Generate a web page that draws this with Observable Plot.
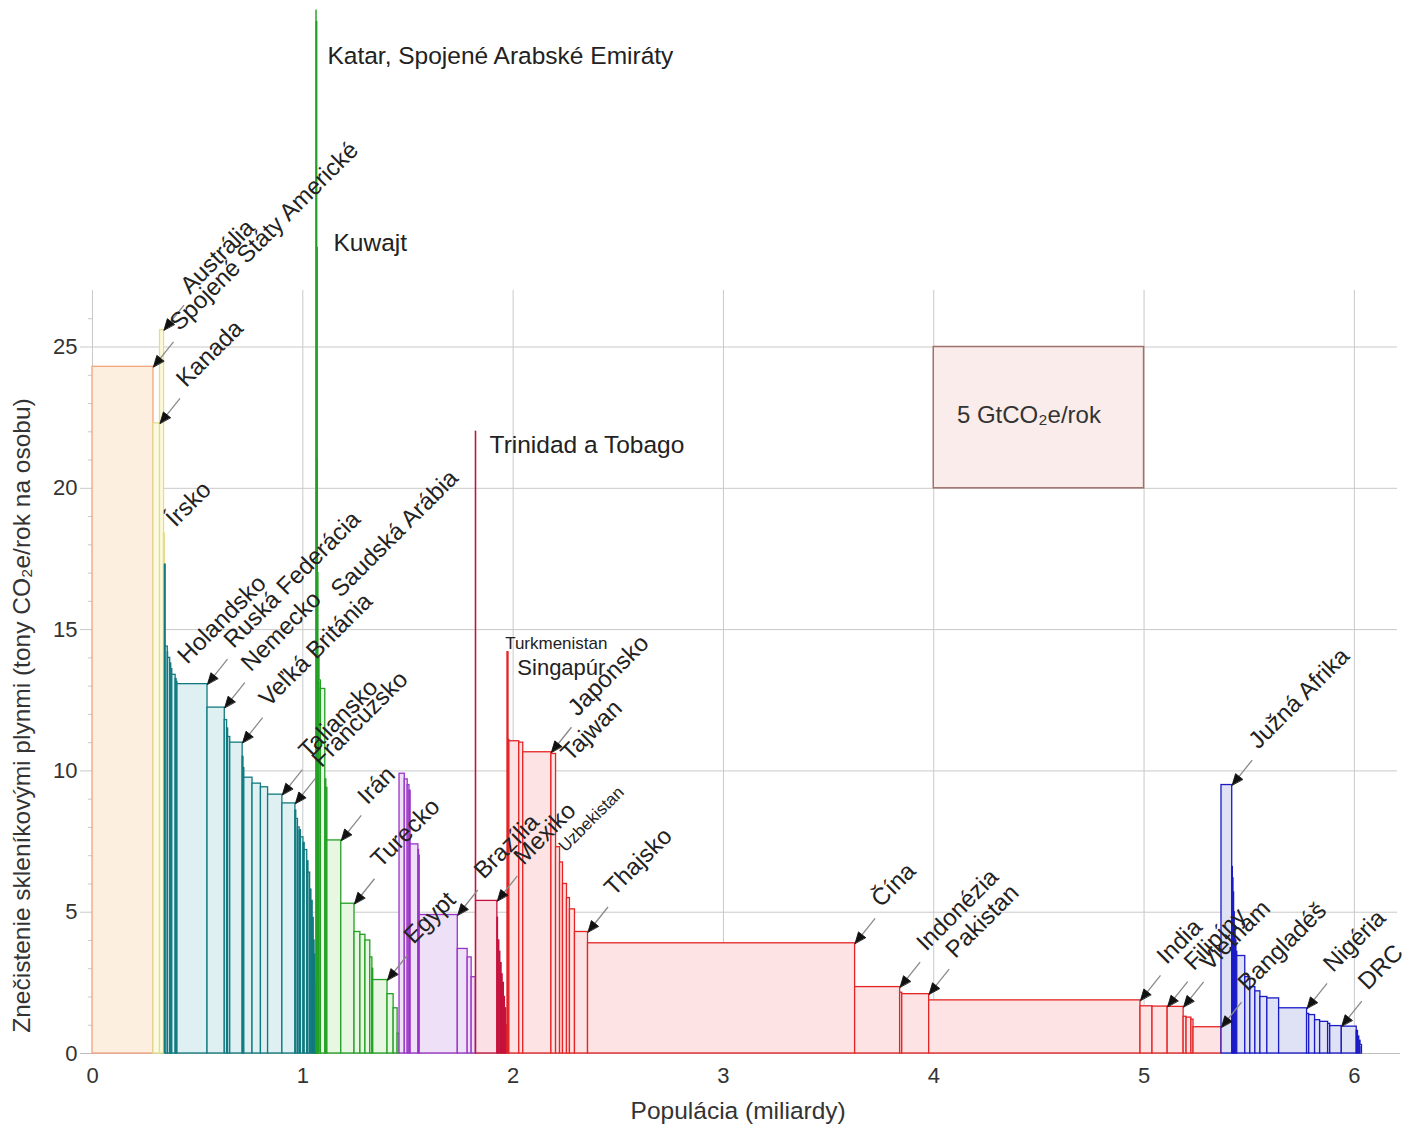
<!DOCTYPE html>
<html>
<head>
<meta charset="utf-8">
<script src="https://cdn.jsdelivr.net/npm/d3@7"></script>
<script src="https://cdn.jsdelivr.net/npm/@observablehq/plot@0.6"></script>
<style>
  html, body { margin: 0; padding: 0; background: #fff; }
  #chart svg { display: block; }
  #chart g[aria-label*="axis"] text { font-size: 22px; fill: #333; }
</style>
</head>
<body>
<div id="chart"></div>
<script>
// Greenhouse-gas emissions per person by country, grouped by region.
// Each row: [country (null when unlabelled), population in millions, t CO2e per person per year]
const usa = [["Spojené Štáty Americké", 290, 24.3]];

const ostatneRozvinute = [["Kanada", 31, 22.3], ["Austrália", 19, 25.6], [null, 4, 18.4]];

const europa = [
  ["Írsko", 4, 17.3], [null, 10, 14.4], [null, 1.4, 14.2], [null, 10, 14.0], [null, 5, 13.8], [null, 5, 13.6],
  ["Holandsko", 16, 13.4], [null, 4.5, 13.25], [null, 4, 13.15],
  ["Ruská Federácia", 143, 13.07], ["Nemecko", 82, 12.24],
  [null, 11, 11.8], [null, 5, 11.5], [null, 10, 11.2],
  ["Veľká Británia", 59, 11.0], [null, 4, 10.5], [null, 4, 10.1],
  [null, 39, 9.76], [null, 40, 9.55], [null, 34, 9.42],
  ["Taliansko", 68, 9.16], ["Francúzsko", 62, 8.85],
  [null, 4, 8.6], [null, 8, 8.3], [null, 8, 8.0], [null, 6, 7.9], [null, 12, 7.65], [null, 6, 7.45],
  [null, 12, 7.2], [null, 6, 6.8], [null, 8, 6.4], [null, 6, 5.8], [null, 6, 5.4], [null, 5, 4.8],
  [null, 4, 4.0], [null, 4, 3.5], [null, 3, 2.5], [null, 2, 1.5]
];

const blizkyVychod = [
  ["Katar", 0.6, 36.9], ["Spojené Arabské Emiráty", 3.2, 36.5], ["Kuwajt", 2.2, 28.5],
  [null, 0.7, 21.0], [null, 2.6, 17.0], [null, 5.3, 14.0], [null, 6.3, 13.2],
  ["Saudská Arábia", 21, 12.9], [null, 5, 9.7], [null, 5, 9.4],
  ["Irán", 66, 7.54], ["Turecko", 63, 5.3],
  [null, 28, 4.3], [null, 24, 4.2], [null, 23, 4.0], [null, 10, 3.4], [null, 4, 3.0],
  ["Egypt", 68, 2.6], [null, 29, 2.1], [null, 19, 1.6], [null, 9, 0.7]
];

const latinskaAmerika = [
  [null, 25, 9.9], [null, 14, 9.7], [null, 8.3, 9.5], [null, 5.5, 9.3], [null, 37, 7.4], [null, 3.3, 7.2], [null, 2.9, 7.0],
  ["Brazília", 181, 4.9], [null, 47, 3.7], [null, 19, 3.4], [null, 20, 2.7]
];

const strednaAmerika = [
  ["Trinidad a Tobago", 1.3, 22.0], ["Mexiko", 101, 5.4],
  [null, 3, 4.8], [null, 6, 4.0], [null, 5, 3.6], [null, 6, 3.2], [null, 5, 2.8],
  [null, 6, 2.5], [null, 5, 2.0], [null, 6, 1.6], [null, 6, 1.0]
];

const azia = [
  ["Turkmenistan", 5, 14.2], ["Singapúr", 4, 11.1], [null, 47, 11.05], [null, 19, 11.0],
  ["Japonsko", 134, 10.66], ["Tajwan", 22, 10.6],
  [null, 19, 7.3], [null, 14, 6.76], ["Uzbekistan", 19, 6.0], [null, 14, 5.5], [null, 24, 5.1],
  ["Thajsko", 62, 4.3], ["Čína", 1270, 3.9], ["Indonézia", 214, 2.35], [null, 10, 2.15],
  ["Pakistan", 128, 2.1], ["India", 1005, 1.88], [null, 57, 1.67],
  ["Filipíny", 72, 1.66], ["Vietnam", 76, 1.65],
  [null, 14, 1.3], [null, 23, 1.27], [null, 10, 1.2], ["Bangladéš", 133, 0.93]
];

const afrika = [
  ["Južná Afrika", 51, 9.5],
  [null, 3, 6.6], [null, 3, 6.2], [null, 3, 5.7], [null, 3, 5.0], [null, 4, 4.5], [null, 4, 4.0], [null, 4, 3.6],
  [null, 38, 3.45], [null, 24, 2.7], [null, 24, 2.35], [null, 24, 2.2], [null, 33, 2.0], [null, 56, 1.95],
  ["Nigéria", 133, 1.6],
  [null, 10, 1.4], [null, 28, 1.36], [null, 24, 1.18], [null, 38, 1.12], [null, 10, 1.05],
  ["DRC", 55, 0.97], [null, 71, 0.95], [null, 6, 0.8], [null, 6, 0.6], [null, 6, 0.45], [null, 7, 0.3]
];

const regions = [
  ["usa", usa], ["ostatne", ostatneRozvinute], ["europa", europa], ["blizkyVychod", blizkyVychod],
  ["latinskaAmerika", latinskaAmerika], ["strednaAmerika", strednaAmerika], ["azia", azia], ["afrika", afrika]
];

// Countries whose bar corner gets an arrow and a slanted name
const arrowed = [
  "Spojené Štáty Americké", "Austrália", "Kanada", "Ruská Federácia", "Nemecko", "Veľká Británia",
  "Taliansko", "Francúzsko", "Irán", "Turecko", "Egypt", "Brazília", "Mexiko", "Japonsko", "Thajsko",
  "Čína", "Indonézia", "Pakistan", "India", "Filipíny", "Vietnam", "Bangladéš", "Južná Afrika", "Nigéria", "DRC"
];

// Names set without arrows (population in billions, t CO2e per person where the text starts)
const slantedNotes = [
  {text: "Írsko", x: 0.395, y: 18.6, size: 24},
  {text: "Holandsko", x: 0.45, y: 13.75, size: 24},
  {text: "Saudská Arábia", x: 1.179, y: 16.1, size: 24},
  {text: "Tajwan", x: 2.273, y: 10.3, size: 24},
  {text: "Uzbekistan", x: 2.249, y: 7.1, size: 17}
];
const flatNotes = [
  {text: "Katar, Spojené Arabské Emiráty", x: 1.117, y: 35.0, size: 24.5},
  {text: "Kuwajt", x: 1.146, y: 28.4, size: 24.5},
  {text: "Trinidad a Tobago", x: 1.888, y: 21.25, size: 24.5},
  {text: "Turkmenistan", x: 1.962, y: 14.3, size: 17},
  {text: "Singapúr", x: 2.02, y: 13.4, size: 22}
];

// Reference block: 1 billion people × 5 t = 5 Gt CO2e per year
const refPopulation = [4, 5];
const refEmissions = [20, 25];
const refText = "5 GtCO₂e/rok";

const yTicks = [0, 5, 10, 15, 20, 25];
const xTicks = [0, 1, 2, 3, 4, 5, 6];

// Region colours
const regionStroke = {
  usa: "#f2a47e", ostatne: "#e4de8c", europa: "#117a80", blizkyVychod: "#23a025",
  latinskaAmerika: "#9a34c6", strednaAmerika: "#c4123c", azia: "#e52425", afrika: "#1b1bc6"
};
const regionFill = {
  usa: "#fdefdf", ostatne: "#fcfae2", europa: "#dff0f2", blizkyVychod: "#e7f7e1",
  latinskaAmerika: "#eee0f6", strednaAmerika: "#fbe0e6", azia: "#fde3e3", afrika: "#dfe1f5"
};

// Layout
const W = 1420, H = 1135, mL = 92, mR = 23, mT = 290, mB = 82;
const xMax = 6.205, yMax = 27;
const bnPerPx = xMax / (W - mL - mR);
const valPerPx = yMax / (H - mT - mB);

// Cumulative population gives each bar its horizontal extent
let acc = 0;
const bars = regions.flatMap(([region, rows]) => rows.map(([name, pop, value]) => {
  const b = {region, name, x1: acc / 1000, x2: (acc + pop) / 1000, value};
  acc += pop;
  return b;
}));

// Arrows point at the top-right corner of the named bar, coming from the upper right
const tail = [20, 25];
const headAngle = Math.atan2(-tail[0], -tail[1]) * 180 / Math.PI;
const callouts = arrowed.map(name => {
  const b = bars.find(d => d.name === name);
  return {name, x: b.x2, y: b.value, tx: b.x2 + tail[0] * bnPerPx, ty: b.value + tail[1] * valPerPx};
});

// Filled triangular arrow head, tip at the anchor
const headShape = {
  draw(ctx, l, r) { ctx.moveTo(0, -l); ctx.lineTo(r, 0); ctx.lineTo(-r, 0); ctx.closePath(); }
};

const font = "'Liberation Sans', Arial, Helvetica, sans-serif";
const grid = "#c9c9c9";

const chart = Plot.plot({
  width: W, height: H,
  marginLeft: mL, marginRight: mR, marginTop: mT, marginBottom: mB,
  style: {fontFamily: font, fontSize: "22px", color: "#333", background: "#fff", overflow: "visible"},
  x: {domain: [0, xMax], ticks: xTicks, tickSize: 0, tickPadding: 14, tickFormat: d => String(d), label: null},
  y: {domain: [0, yMax], ticks: yTicks, tickSize: 0, tickPadding: 15, tickFormat: d => String(d), label: null},
  marks: [
    Plot.ruleX(xTicks, {stroke: grid}),
    Plot.ruleY(yTicks, {x1: -12 * bnPerPx, x2: xMax, stroke: grid}),
    Plot.ruleY(d3.range(0, 27).filter(v => v % 5), {x1: -4 * bnPerPx, x2: 0, stroke: grid}),
    Plot.ruleY([0], {x1: -12 * bnPerPx, x2: xMax + 3 * bnPerPx, stroke: "#bdbdbd"}),
    Plot.rect([0], {
      x1: refPopulation[0], x2: refPopulation[1], y1: refEmissions[0], y2: refEmissions[1],
      fill: "#f9ecea", stroke: "#9e716a", strokeWidth: 1.5
    }),
    Plot.text([refText], {x: refPopulation[0] + 0.11, y: (refEmissions[0] + refEmissions[1]) / 2 + 0.1, textAnchor: "start", fontSize: 24, fill: "#333"}),
    Plot.rect(bars, {
      x1: "x1", x2: "x2", y1: 0, y2: "value",
      fill: d => regionFill[d.region], stroke: d => regionStroke[d.region], strokeWidth: 1.3
    }),
    Plot.link(callouts, {x1: "tx", y1: "ty", x2: "x", y2: "y", stroke: "#8a8a8a", strokeWidth: 1.3}),
    Plot.vector(callouts, {
      x: "x", y: "y", length: 11, r: 4.5, rotate: headAngle, anchor: "end",
      shape: headShape, fill: "#111", stroke: "#111", strokeWidth: 0.8
    }),
    Plot.text(callouts, {
      x: "x", y: "y", text: "name", rotate: -45, textAnchor: "start", lineAnchor: "bottom",
      dx: 26, dy: -35, fontSize: 24, fill: "#222"
    }),
    Plot.text(slantedNotes, {
      x: "x", y: "y", text: "text", fontSize: "size", rotate: -45, textAnchor: "start", lineAnchor: "bottom", fill: "#222"
    }),
    Plot.text(flatNotes, {
      x: "x", y: "y", text: "text", fontSize: "size", textAnchor: "start", lineAnchor: "bottom", fill: "#222"
    }),
    Plot.text(["Znečistenie skleníkovými plynmi (tony CO₂e/rok na osobu)"], {
      frameAnchor: "left", y: 11.96, dx: -70, rotate: -90, textAnchor: "middle", fontSize: 24.5, fill: "#333"
    }),
    Plot.text(["Populácia (miliardy)"], {
      frameAnchor: "bottom", x: 3.07, dy: 65, textAnchor: "middle", fontSize: 24.5, fill: "#333"
    })
  ]
});

document.getElementById("chart").append(chart);
</script>
</body>
</html>
